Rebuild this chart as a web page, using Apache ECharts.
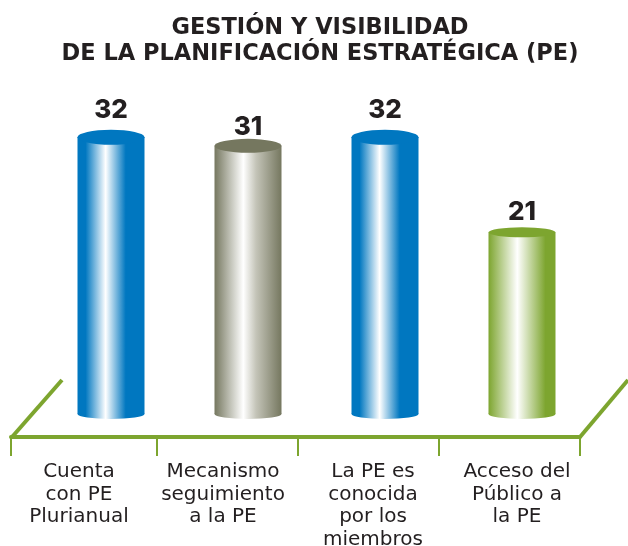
<!DOCTYPE html>
<html>
<head>
<meta charset="utf-8">
<title>Gestión y visibilidad de la PE</title>
<script src="https://cdn.jsdelivr.net/npm/echarts@6/dist/echarts.min.js"></script>
<style>
html, body { margin: 0; padding: 0; background: #fff; }
#chart { width: 628px; height: 546px; }
</style>
</head>
<body>
<div id="chart"></div>
<script>
// datos
var categories = ['Cuenta\ncon PE\nPlurianual', 'Mecanismo\nseguimiento\na la PE', 'La PE es\nconocida\npor los\nmiembros', 'Acceso del\nPúblico a\nla PE'];
var values = [32, 31, 32, 21];

// el suelo verde no esta alineado con las barras, por eso va en su propio eje
var floorTicks = [11, 157, 298, 439, 580];
var floorLabels = [79, 223, 373, 517];
var labelGaps = [14, 6, 14, 7];
var topHeights = [15, 14, 15, 10];

var green = '#7da52f';
var ink = '#231f20';
var font = 'Inter';
var wideFont = 'DejaVu Sans';
var barWidth = 67;

var tops = ['#0077c0', '#75775f', '#0077c0', green];
var shades = [
    [[0, '#0077c0'], [0.12, '#0077c0'], [0.42, '#ffffff'], [0.72, '#0077c0'], [1, '#0077c0']],
    [[0, '#75775f'], [0.43, '#ffffff'], [0.62, '#c4c4b8'], [1, '#75775f']],
    [[0, '#0077c0'], [0.12, '#0077c0'], [0.42, '#ffffff'], [0.72, '#0077c0'], [1, '#0077c0']],
    [[0, green], [0.43, '#ffffff'], [0.85, green], [1, green]]
];

function cylinderFill(i) {
    var stops = shades[i].map(function (s) {
        return { offset: s[0], color: s[1] };
    });
    return new echarts.graphic.LinearGradient(0, 0, 1, 0, stops);
}

var myChart = echarts.init(document.getElementById('chart'));
myChart.setOption({
    animation: false,
    backgroundColor: '#fff',
    title: {
        text: 'GESTIÓN Y VISIBILIDAD\nDE LA PLANIFICACIÓN ESTRATÉGICA (PE)',
        left: 315,
        top: 10,
        textAlign: 'center',
        textStyle: { fontFamily: wideFont, fontWeight: 700, fontSize: 22.5, lineHeight: 26, color: ink }
    },
    grid: [
        { left: 42.5, width: 548, top: 68, height: 346, outerBoundsMode: 'none' },
        { left: 11, width: 569, top: 400, height: 37, outerBoundsMode: 'none' }
    ],
    xAxis: [
        {
            type: 'category',
            gridIndex: 0,
            data: categories,
            axisLine: { show: false },
            axisTick: { show: false },
            axisLabel: { show: false }
        },
        {
            type: 'value',
            gridIndex: 1,
            min: 11,
            max: 580,
            splitLine: { show: false },
            axisLine: { onZero: false, lineStyle: { color: green, width: 4 } },
            axisTick: { length: 19, customValues: floorTicks, lineStyle: { color: green, width: 2 } },
            axisLabel: {
                customValues: floorLabels,
                margin: 24,
                showMinLabel: true,
                showMaxLabel: true,
                fontFamily: wideFont,
                fontSize: 20,
                lineHeight: 22.5,
                color: ink,
                formatter: function (v) {
                    return categories[floorLabels.indexOf(v)];
                }
            }
        }
    ],
    yAxis: [
        { type: 'value', gridIndex: 0, min: 0, max: 40, show: false },
        { type: 'value', gridIndex: 1, min: 0, max: 1, show: false }
    ],
    series: [
        {
            type: 'bar',
            xAxisIndex: 0,
            yAxisIndex: 0,
            barWidth: barWidth,
            data: values.map(function (v, i) {
                return {
                    value: v,
                    itemStyle: { color: cylinderFill(i) },
                    label: {
                        show: true,
                        position: 'top',
                        distance: labelGaps[i],
                        fontFamily: font,
                        fontWeight: 800,
                        fontSize: 26,
                        color: ink
                    }
                };
            }),
            z: 2
        },
        {
            type: 'pictorialBar',
            xAxisIndex: 0,
            yAxisIndex: 0,
            symbol: 'circle',
            symbolSize: [barWidth, 10],
            symbolPosition: 'start',
            symbolOffset: [0, '50%'],
            data: values.map(function (v, i) {
                return { value: v, itemStyle: { color: cylinderFill(i) } };
            }),
            z: 1
        },
        {
            type: 'pictorialBar',
            xAxisIndex: 0,
            yAxisIndex: 0,
            symbol: 'circle',
            symbolPosition: 'end',
            symbolOffset: [0, '-50%'],
            data: values.map(function (v, i) {
                return { value: v, symbolSize: [barWidth, topHeights[i]], itemStyle: { color: tops[i] } };
            }),
            z: 3
        }
    ],
    graphic: [
        { type: 'line', shape: { x1: 12, y1: 437, x2: 62, y2: 380 }, style: { stroke: green, lineWidth: 4 } },
        { type: 'line', shape: { x1: 580, y1: 437, x2: 628, y2: 380 }, style: { stroke: green, lineWidth: 4 } }
    ]
});
</script>
</body>
</html>
